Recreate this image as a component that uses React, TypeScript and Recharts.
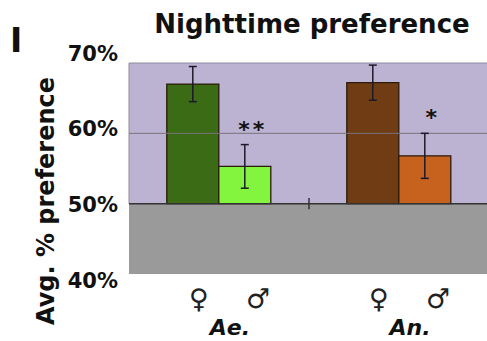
import React from "react";
import { BarChart, Bar, XAxis, YAxis, ErrorBar, Cell, LabelList, ReferenceArea, ReferenceLine } from "recharts";

const species = ["Ae.", "An."];
const femaleValues = [67.0, 67.2];
const femaleErrors = [2.5, 2.5];
const maleValues = [55.3, 56.8];
const maleErrors = [3.1, 3.2];
const significance = ["**", "*"];
const yTicks = [40, 50, 60, 70];

const femaleColors = ["#3b6b15", "#703c14"];
const maleColors = ["#84f53e", "#c6621e"];
const FONT = "DejaVu Sans, Liberation Sans, sans-serif";

// range bars start at the 50% line
const data = species.map((s, i) => ({
  species: s,
  female: [50, femaleValues[i]],
  male: [50, maleValues[i]],
  femaleErr: femaleErrors[i],
  maleErr: maleErrors[i],
  sig: significance[i],
}));

const YTick = (props: any) => {
  const { x, y, payload } = props;
  const v = payload.value;
  const shift = (50 - v) * 0.55 + 1;
  return (
    <text x={x} y={y + shift} dy="0.36em" textAnchor="end" fontFamily={FONT} fontWeight="bold" fontSize={21} fill="#111">
      {v}%
    </text>
  );
};

const XTick = (props: any) => {
  const { x, y, payload } = props;
  return (
    <g>
      <text x={x - 20} y={y + 34} textAnchor="middle" fontFamily={FONT} fontSize={27} fill="#222">♀</text>
      <text x={x + 39} y={y + 34} textAnchor="middle" fontFamily={FONT} fontSize={27} fill="#222">♂</text>
      <text x={x + 11} y={y + 61} textAnchor="middle" fontFamily={FONT} fontWeight="bold" fontStyle="italic" fontSize={22} fill="#111">
        {payload.value}
      </text>
    </g>
  );
};

const SigLabel = (props: any) => {
  const { x, y, width, height, index } = props;
  const perUnit = height / (maleValues[index] - 50);
  const errTop = y - maleErrors[index] * perUnit;
  return (
    <text x={x + width / 2 + 8} y={errTop - 8} textAnchor="middle" fontFamily={FONT} fontWeight="bold" fontSize={22} letterSpacing={3} fill="#111">
      {significance[index]}
    </text>
  );
};

export default function App() {
  return (
    <div style={{ position: "absolute", left: 0, top: 0, width: 487, height: 341, overflow: "hidden", background: "#fff" }}>
      <BarChart width={490} height={341} data={data} margin={{ top: 63, right: 1, bottom: 0, left: 0 }} barCategoryGap="21%" barGap={0}>
        <XAxis dataKey="species" axisLine={false} tickLine={false} tickSize={0} tickMargin={0} height={67} tick={<XTick />} interval={0} />
        <YAxis
          domain={[40, 70]}
          ticks={yTicks}
          axisLine={false}
          tickLine={false}
          tickSize={0}
          tickMargin={11}
          width={129}
          tick={<YTick />}
          label={{
            content: () => (
              <text x={54} y={201} transform="rotate(-90 54 201)" textAnchor="middle" fontFamily={FONT} fontWeight="bold" fontSize={24} fill="#111">
                Avg. % preference
              </text>
            ),
          }}
        />
        <ReferenceArea y1={50} y2={70} fill="#bcb3d2" fillOpacity={1} stroke="#8e8a9c" strokeWidth={1} />
        <ReferenceArea y1={40} y2={50} fill="#9a9a9a" fillOpacity={1} />
        <ReferenceLine y={60} stroke="#77737f" strokeWidth={1} />
        <Bar dataKey="female" stroke="#2a1a0a" strokeWidth={1.3} isAnimationActive={false}>
          {data.map((d, i) => (
            <Cell key={d.species} fill={femaleColors[i]} />
          ))}
          <ErrorBar dataKey="femaleErr" width={4} stroke="#1c1a2a" strokeWidth={1.5} />
        </Bar>
        <Bar dataKey="male" stroke="#2a1a0a" strokeWidth={1.3} isAnimationActive={false}>
          {data.map((d, i) => (
            <Cell key={d.species} fill={maleColors[i]} />
          ))}
          <ErrorBar dataKey="maleErr" width={4} stroke="#1c1a2a" strokeWidth={1.5} />
          <LabelList dataKey="sig" content={<SigLabel />} />
        </Bar>
        <ReferenceLine y={50} stroke="#333" strokeWidth={1.5} />
        <ReferenceLine
          position="start"
          segment={[{ x: species[1], y: 49.2 }, { x: species[1], y: 50.8 }]}
          stroke="#333"
          strokeWidth={1.5}
        />
      </BarChart>
      <svg width={487} height={60} style={{ position: "absolute", left: 0, top: 0 }}>
        <text x={10} y={52} fontFamily={FONT} fontWeight="bold" fontSize={33} fill="#111">I</text>
        <text x={312} y={33} textAnchor="middle" fontFamily={FONT} fontWeight="bold" fontSize={26} fill="#111">
          Nighttime preference
        </text>
      </svg>
    </div>
  );
}
